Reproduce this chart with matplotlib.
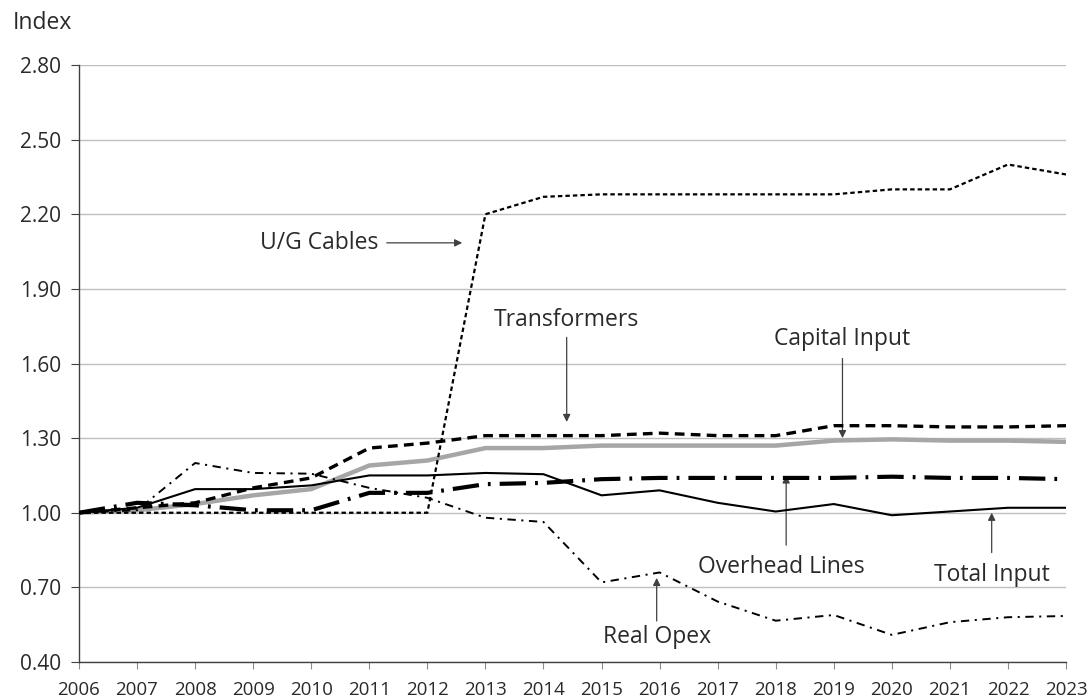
import numpy as np
import matplotlib
matplotlib.use('Agg')
import matplotlib.pyplot as plt

plt.rcParams['font.family'] = ['Open Sans', 'DejaVu Sans']
plt.rcParams['lines.scale_dashes'] = False

years = list(range(2006, 2024))

ug_cables = [1.00, 1.00, 1.00, 1.00, 1.00, 1.00, 1.00, 2.20, 2.27, 2.28,
             2.28, 2.28, 2.28, 2.28, 2.30, 2.30, 2.40, 2.36]
transformers = [1.00, 1.02, 1.04, 1.10, 1.14, 1.26, 1.28, 1.31, 1.31, 1.31,
                1.32, 1.31, 1.31, 1.35, 1.35, 1.345, 1.345, 1.35]
capital_input = [1.00, 1.01, 1.035, 1.07, 1.095, 1.19, 1.21, 1.26, 1.26, 1.27,
                 1.27, 1.27, 1.27, 1.29, 1.295, 1.29, 1.29, 1.285]
total_input = [1.00, 1.02, 1.095, 1.095, 1.11, 1.15, 1.15, 1.16, 1.155, 1.07,
               1.09, 1.04, 1.005, 1.035, 0.99, 1.005, 1.02, 1.02]
overhead_lines = [1.00, 1.04, 1.03, 1.01, 1.01, 1.08, 1.08, 1.115, 1.12, 1.135,
                  1.14, 1.14, 1.14, 1.14, 1.145, 1.14, 1.14, 1.135]
real_opex = [1.00, 1.01, 1.20, 1.16, 1.157, 1.10, 1.06, 0.98, 0.963, 0.72,
             0.76, 0.643, 0.566, 0.589, 0.509, 0.56, 0.58, 0.585]

y_ticks = [0.40, 0.70, 1.00, 1.30, 1.60, 1.90, 2.20, 2.50, 2.80]

TXT = '#2a2a2a'
AX = '#404040'

fig = plt.figure(figsize=(10.92, 7.0), dpi=100)
ax = fig.add_axes([79 / 1092, 38 / 700, (1066 - 79) / 1092, (662 - 65) / 700])

ax.plot(years, ug_cables, color='black', lw=1.6, dashes=(3.2, 2.2), zorder=5)
ax.plot(years, transformers, color='black', lw=2.4, dashes=(7, 4.5), zorder=4)
ax.plot(years, capital_input, color='#a6a6a6', lw=3.2, zorder=3, solid_capstyle='butt')
ax.plot(years, total_input, color='black', lw=1.5, zorder=4)
ax.plot(years, overhead_lines, color='black', lw=3.0,
        dashes=(19, 6.5, 2, 6.5), zorder=4, dash_capstyle='butt')
ax.plot(years, real_opex, color='black', lw=1.4,
        dashes=(6, 4, 1.5, 4), zorder=4)

ax.set_xlim(2006, 2023)
ax.set_ylim(0.40, 2.80)
ax.set_yticks(y_ticks)
ax.set_yticklabels([f'{v:.2f}' for v in y_ticks])
ax.set_xticks(years)
ax.set_xticklabels([str(y) for y in years])
ax.grid(axis='y', color='#bfbfbf', lw=1.0, zorder=0)
ax.set_axisbelow(True)

for s in ['top', 'right']:
    ax.spines[s].set_visible(False)
for s in ['left', 'bottom']:
    ax.spines[s].set_color(AX)
    ax.spines[s].set_linewidth(1.0)

ax.tick_params(axis='y', direction='out', length=6, color=AX, labelsize=15,
               labelcolor=TXT, pad=7)
ax.tick_params(axis='x', direction='out', length=5, color='#8c8c8c', labelsize=13.5,
               labelcolor=TXT, pad=9)

fig.text(13 / 1092, 1 - 23 / 700, 'Index', fontsize=16.5, color=TXT,
         ha='left', va='center')

arrow = dict(arrowstyle='-|>', color='#404040', lw=0.9, mutation_scale=11,
             shrinkA=0, shrinkB=0)
fs = 16.5

# U/G Cables: horizontal arrow pointing right
ax.annotate('', xy=(2012.6, 2.085), xytext=(2011.3, 2.085), arrowprops=arrow)
ax.text(2011.15, 2.085, 'U/G Cables', fontsize=fs, color=TXT, ha='right', va='center')

# Transformers
ax.annotate('', xy=(2014.4, 1.365), xytext=(2014.4, 1.705), arrowprops=arrow)
ax.text(2014.4, 1.775, 'Transformers', fontsize=fs, color=TXT, ha='center', va='center')

# Capital Input
ax.annotate('', xy=(2019.15, 1.30), xytext=(2019.15, 1.62), arrowprops=arrow)
ax.text(2019.15, 1.70, 'Capital Input', fontsize=fs, color=TXT, ha='center', va='center')

# Overhead Lines
ax.annotate('', xy=(2018.18, 1.15), xytext=(2018.18, 0.87), arrowprops=arrow)
ax.text(2018.1, 0.78, 'Overhead Lines', fontsize=fs, color=TXT, ha='center', va='center')

# Total Input
ax.annotate('', xy=(2021.72, 1.00), xytext=(2021.72, 0.84), arrowprops=arrow)
ax.text(2021.72, 0.75, 'Total Input', fontsize=fs, color=TXT, ha='center', va='center')

# Real Opex
ax.annotate('', xy=(2015.95, 0.738), xytext=(2015.95, 0.565), arrowprops=arrow)
ax.text(2015.95, 0.50, 'Real Opex', fontsize=fs, color=TXT, ha='center', va='center')

fig.savefig('out.png', dpi=100)
